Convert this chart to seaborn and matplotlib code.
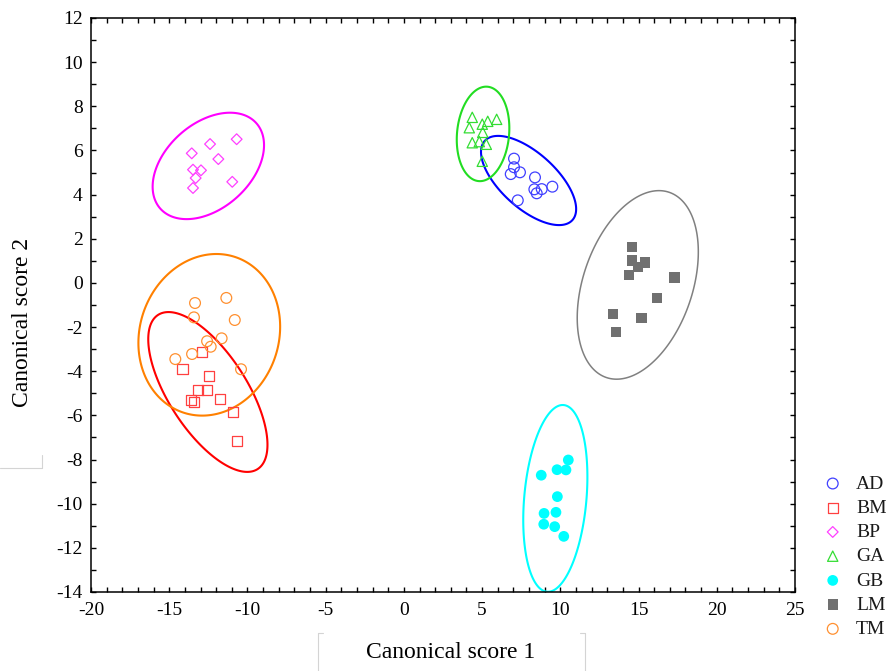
import numpy as np
import pandas as pd
import matplotlib
matplotlib.use("Agg")
import matplotlib.pyplot as plt
from matplotlib.lines import Line2D
from matplotlib.patches import Polygon
import seaborn as sns

# ---- canonical scores per group ----
groups = ["AD", "BM", "BP", "GA", "GB", "LM", "TM"]

ad_x = [7.04, 7.04, 7.42, 6.83, 8.38, 8.34, 8.81, 8.49, 9.49, 7.28]
ad_y = [5.63, 5.24, 5.01, 4.93, 4.78, 4.24, 4.25, 4.06, 4.36, 3.74]

bm_x = [-12.90, -14.16, -12.46, -13.14, -12.58, -13.63, -13.42, -11.75, -10.94, -10.67]
bm_y = [-3.14, -3.91, -4.22, -4.86, -4.86, -5.30, -5.38, -5.26, -5.86, -7.15]

bp_x = [-10.69, -12.39, -13.56, -11.86, -13.48, -12.97, -13.31, -10.97, -13.48]
bp_y = [6.51, 6.29, 5.87, 5.61, 5.13, 5.10, 4.75, 4.58, 4.30]

ga_x = [4.37, 4.18, 5.01, 5.36, 5.93, 5.04, 4.37, 4.82, 5.27, 5.01]
ga_y = [7.50, 7.03, 7.19, 7.32, 7.41, 6.82, 6.35, 6.40, 6.28, 5.51]

gb_x = [10.51, 9.79, 10.36, 8.78, 9.81, 8.96, 9.72, 8.94, 9.64, 10.22]
gb_y = [-8.02, -8.46, -8.47, -8.71, -9.68, -10.44, -10.39, -10.93, -11.04, -11.48]

lm_x = [14.56, 14.56, 15.43, 14.98, 14.41, 17.29, 16.20, 13.35, 15.18, 13.56]
lm_y = [1.64, 1.01, 0.92, 0.71, 0.36, 0.25, -0.68, -1.41, -1.60, -2.22]

tm_x = [-13.35, -11.35, -13.42, -10.81, -11.65, -12.58, -12.35, -13.54, -14.61, -10.41]
tm_y = [-0.91, -0.68, -1.56, -1.68, -2.51, -2.64, -2.89, -3.22, -3.45, -3.91]

# ---- confidence ellipses: centre, half extents and correlation ----
ell_cx = [7.97, -12.53, -12.50, 5.06, 9.68, 14.95, -12.44]
ell_cy = [4.64, -4.94, 5.30, 6.75, -9.76, -0.09, -2.35]
ell_sx = [3.04, 3.81, 3.56, 1.68, 2.05, 3.87, 4.53]
ell_sy = [2.02, 3.62, 2.41, 2.14, 4.23, 4.27, 3.66]
ell_r = [-0.64, -0.66, 0.39, 0.12, 0.23, 0.35, 0.10]

xs = [ad_x, bm_x, bp_x, ga_x, gb_x, lm_x, tm_x]
ys = [ad_y, bm_y, bp_y, ga_y, gb_y, lm_y, tm_y]

line_colors = ["#0000ff", "#ff0000", "#ff00ff", "#22dd22", "#00ffff", "#808080", "#ff8000"]
mark_colors = ["#4040ff", "#ff4040", "#ff40ff", "#33dd33", "#00ffff", "#707070", "#ff9030"]
markers = ["o", "s", "D", "^", "o", "s", "o"]
filled = [False, False, False, False, True, True, False]
sizes = [60, 55, 30, 55, 60, 55, 60]

sns.set_theme(style="ticks")
plt.rcParams["font.family"] = ["Liberation Serif", "DejaVu Serif"]
plt.rcParams["axes.unicode_minus"] = False

fig = plt.figure(figsize=(8.9, 6.71), dpi=100)
ax = fig.add_axes([91 / 890, 1 - 592 / 671, 704 / 890, 574 / 671])

t = np.linspace(0, 2 * np.pi, 400, endpoint=False)
for i, g in enumerate(groups):
    df = pd.DataFrame({"x": xs[i], "y": ys[i]})
    if filled[i]:
        sns.scatterplot(data=df, x="x", y="y", ax=ax, marker=markers[i], s=sizes[i],
                        color=mark_colors[i], edgecolor="none", linewidth=0,
                        label=g, zorder=3)
    else:
        sns.scatterplot(data=df, x="x", y="y", ax=ax, marker=markers[i], s=sizes[i],
                        facecolors="none", edgecolors=mark_colors[i], linewidth=0.9,
                        label=g, zorder=3)
    # closed ellipse outline from the group's spread parameters
    r = ell_r[i]
    ex = ell_cx[i] + ell_sx[i] * np.cos(t)
    ey = ell_cy[i] + ell_sy[i] * (r * np.cos(t) + np.sqrt(1 - r * r) * np.sin(t))
    lw = 1.1 if groups[i] == "LM" else 1.5
    ax.add_patch(Polygon(np.column_stack([ex, ey]), closed=True, fill=False,
                         edgecolor=line_colors[i], linewidth=lw, zorder=2))

ax.set_xlim(-20, 25)
ax.set_ylim(-14, 12)
ax.set_xticks(np.arange(-20, 26, 5))
ax.set_yticks(np.arange(-14, 13, 2))
ax.set_xticks(np.arange(-20, 26, 1), minor=True)
ax.set_yticks(np.arange(-14, 13, 1), minor=True)
ax.tick_params(which="both", direction="in", top=True, right=True,
               length=3.5, width=1, color="black", labelsize=14, labelcolor="black")
ax.tick_params(axis="x", which="major", pad=7)
ax.tick_params(axis="y", which="major", pad=6)
for sp in ax.spines.values():
    sp.set_visible(True)
    sp.set_color("black")
    sp.set_linewidth(1.1)

ax.set_xlabel("Canonical score 1", fontsize=17, color="black")
ax.set_ylabel("Canonical score 2", fontsize=17, color="black")
ax.xaxis.set_label_coords(0.511, -0.105)
ax.xaxis.label.set_va("center")
ax.yaxis.set_label_coords(-0.097, 0.47)
ax.yaxis.label.set_va("center")

leg = ax.legend(loc="upper left", bbox_to_anchor=(823 / 890, 1 - 475 / 671),
                bbox_transform=fig.transFigure, frameon=False, fontsize=14,
                handlelength=1.0, handletextpad=0.7, labelspacing=0.34,
                borderpad=0, borderaxespad=0)
for txt in leg.get_texts():
    txt.set_color("#1a1a1a")

# faint frame fragments around the axis titles
gray = "#d4d4d4"
def fig_line(px, py):
    fig.add_artist(Line2D([p / 890 for p in px], [1 - q / 671 for q in py],
                          transform=fig.transFigure, color=gray, linewidth=0.8))

fig_line([318, 318], [633, 671])
fig_line([318, 323], [633, 633])
fig_line([585, 585], [633, 671])
fig_line([580, 585], [633, 633])
fig_line([0, 42], [468, 468])
fig_line([42, 42], [455, 468])

fig.savefig("out.png", dpi=100, facecolor="white")
